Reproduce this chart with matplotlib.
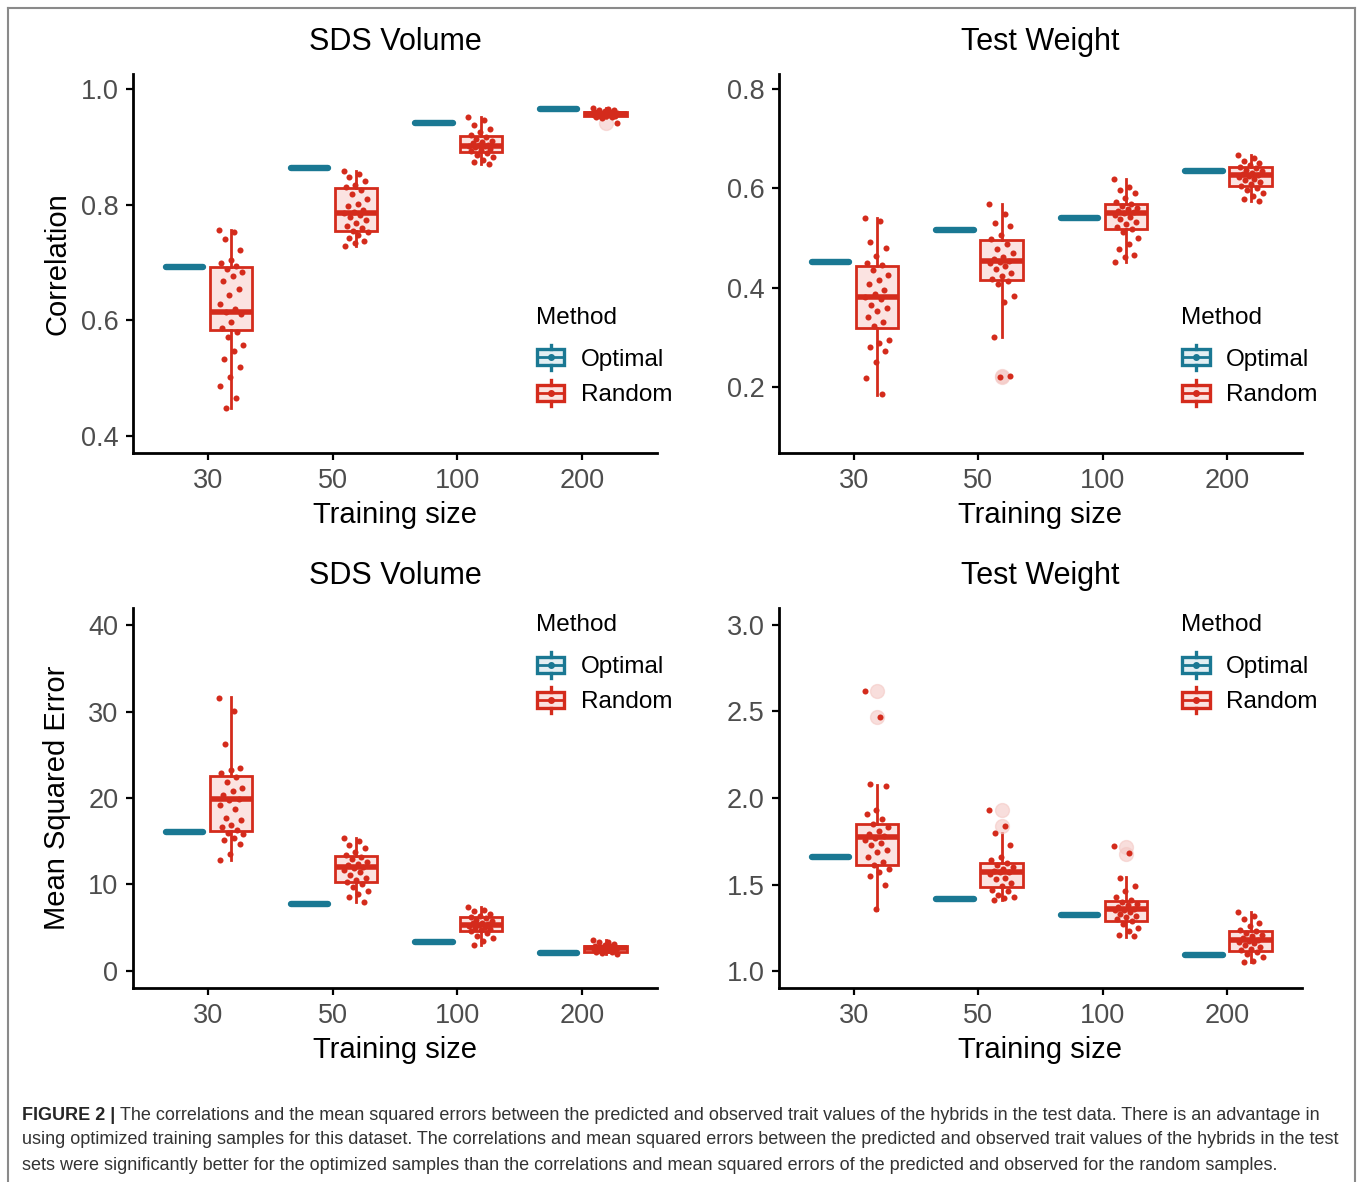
import numpy as np
import matplotlib
matplotlib.use("Agg")
import matplotlib.pyplot as plt
from matplotlib.patches import Rectangle, Patch
from matplotlib.lines import Line2D
from matplotlib.legend_handler import HandlerBase

plt.rcParams['font.family'] = ['Liberation Sans', 'DejaVu Sans']

# ---- data ----
sizes = ["30", "50", "100", "200"]

# optimal training set: one value per training size
sds_cor_opt = [0.693, 0.863, 0.941, 0.965]
tw_cor_opt = [0.452, 0.515, 0.541, 0.634]
sds_mse_opt = [16.1, 7.75, 3.35, 2.1]
tw_mse_opt = [1.659, 1.416, 1.324, 1.092]

# random training sets: box stats [whislo, q1, med, q3, whishi]
sds_cor_box = [[0.449, 0.584, 0.615, 0.692, 0.757],
               [0.728, 0.754, 0.785, 0.829, 0.858],
               [0.870, 0.891, 0.902, 0.918, 0.951],
               [0.950, 0.953, 0.957, 0.961, 0.967]]
tw_cor_box = [[0.184, 0.319, 0.382, 0.443, 0.541],
              [0.301, 0.416, 0.453, 0.495, 0.568],
              [0.452, 0.517, 0.551, 0.568, 0.618],
              [0.574, 0.604, 0.626, 0.643, 0.667]]
sds_mse_box = [[12.8, 16.2, 19.9, 22.5, 31.7],
               [8.0, 10.3, 12.0, 13.3, 15.4],
               [3.0, 4.6, 5.3, 6.2, 7.4],
               [2.0, 2.2, 2.6, 2.9, 3.6]]
tw_mse_box = [[1.353, 1.613, 1.775, 1.850, 2.075],
              [1.410, 1.485, 1.572, 1.624, 1.800],
              [1.197, 1.289, 1.358, 1.405, 1.543],
              [1.050, 1.116, 1.180, 1.230, 1.340]]

# outliers flagged by the boxplots
sds_cor_out = [[], [], [], [0.942]]
tw_cor_out = [[], [0.223, 0.220], [], []]
sds_mse_out = [[], [], [], []]
tw_mse_out = [[2.62, 2.47], [1.93, 1.84], [1.717, 1.676], []]

# individual random replicates
sds_cor_pts = [
    [0.757, 0.752, 0.741, 0.722, 0.705, 0.699, 0.694, 0.688, 0.684, 0.676, 0.668, 0.655, 0.643, 0.628, 0.619,
     0.615, 0.611, 0.598, 0.586, 0.579, 0.571, 0.558, 0.547, 0.534, 0.519, 0.502, 0.487, 0.465, 0.449],
    [0.858, 0.853, 0.848, 0.841, 0.834, 0.830, 0.826, 0.818, 0.809, 0.802, 0.797, 0.791, 0.787, 0.785, 0.783,
     0.779, 0.773, 0.768, 0.764, 0.759, 0.755, 0.752, 0.747, 0.742, 0.738, 0.733, 0.729],
    [0.951, 0.946, 0.938, 0.931, 0.925, 0.920, 0.917, 0.914, 0.911, 0.908, 0.906, 0.904, 0.903, 0.902, 0.901,
     0.899, 0.897, 0.894, 0.892, 0.889, 0.886, 0.882, 0.878, 0.874, 0.871],
    [0.968, 0.966, 0.964, 0.963, 0.962, 0.961, 0.960, 0.959, 0.958, 0.958, 0.957, 0.957, 0.956, 0.955, 0.955,
     0.954, 0.953, 0.953, 0.952, 0.951, 0.950, 0.942]]
tw_cor_pts = [
    [0.541, 0.535, 0.491, 0.479, 0.463, 0.450, 0.446, 0.436, 0.425, 0.415, 0.408, 0.395, 0.388, 0.382, 0.378,
     0.364, 0.359, 0.352, 0.341, 0.330, 0.322, 0.294, 0.289, 0.281, 0.272, 0.251, 0.218, 0.186],
    [0.568, 0.548, 0.530, 0.525, 0.505, 0.497, 0.488, 0.478, 0.469, 0.462, 0.457, 0.454, 0.452, 0.449, 0.444,
     0.437, 0.430, 0.423, 0.418, 0.414, 0.408, 0.384, 0.370, 0.301, 0.223, 0.220],
    [0.618, 0.603, 0.596, 0.590, 0.581, 0.572, 0.569, 0.565, 0.561, 0.558, 0.555, 0.552, 0.550, 0.547, 0.543,
     0.539, 0.533, 0.528, 0.522, 0.518, 0.512, 0.500, 0.488, 0.478, 0.466, 0.461, 0.452],
    [0.667, 0.660, 0.655, 0.650, 0.646, 0.643, 0.640, 0.637, 0.634, 0.631, 0.628, 0.627, 0.625, 0.622, 0.619,
     0.616, 0.612, 0.608, 0.605, 0.601, 0.596, 0.590, 0.584, 0.578, 0.574]]
sds_mse_pts = [
    [31.6, 30.1, 26.3, 23.5, 23.2, 22.9, 22.4, 21.8, 21.1, 20.8, 20.3, 19.9, 19.8, 19.2, 18.7, 17.7, 17.4,
     16.9, 16.6, 16.3, 16.0, 15.8, 15.4, 15.1, 14.7, 13.5, 12.8],
    [15.4, 15.0, 14.6, 14.2, 13.8, 13.4, 13.2, 12.9, 12.6, 12.4, 12.2, 12.0, 11.9, 11.7, 11.4, 11.1, 10.8,
     10.5, 10.3, 10.0, 9.7, 9.3, 8.9, 8.5, 8.0],
    [7.4, 7.1, 6.9, 6.6, 6.4, 6.2, 6.1, 5.9, 5.8, 5.6, 5.5, 5.4, 5.3, 5.2, 5.1, 5.0, 4.9, 4.7, 4.6, 4.4,
     4.1, 3.8, 3.5, 3.0],
    [3.6, 3.4, 3.3, 3.1, 3.0, 2.9, 2.9, 2.8, 2.7, 2.7, 2.6, 2.6, 2.5, 2.5, 2.4, 2.4, 2.3, 2.3, 2.2, 2.2,
     2.1, 2.0]]
tw_mse_pts = [
    [2.62, 2.47, 2.08, 2.07, 1.93, 1.91, 1.88, 1.85, 1.83, 1.81, 1.79, 1.78, 1.77, 1.76, 1.74, 1.73, 1.70,
     1.69, 1.66, 1.63, 1.61, 1.59, 1.57, 1.55, 1.50, 1.36],
    [1.93, 1.84, 1.80, 1.73, 1.66, 1.64, 1.625, 1.61, 1.60, 1.59, 1.58, 1.575, 1.57, 1.56, 1.54, 1.53, 1.51,
     1.49, 1.47, 1.46, 1.44, 1.43, 1.42, 1.41],
    [1.72, 1.68, 1.54, 1.49, 1.46, 1.43, 1.41, 1.40, 1.39, 1.38, 1.37, 1.36, 1.355, 1.35, 1.34, 1.33, 1.32,
     1.31, 1.30, 1.29, 1.27, 1.25, 1.23, 1.21, 1.20],
    [1.34, 1.32, 1.30, 1.28, 1.26, 1.24, 1.23, 1.22, 1.21, 1.20, 1.19, 1.18, 1.175, 1.17, 1.16, 1.15, 1.14,
     1.13, 1.12, 1.11, 1.10, 1.08, 1.06, 1.05]]

caption_head = "FIGURE 2 |"
caption_lines = [
    "The correlations and the mean squared errors between the predicted and observed trait values of the hybrids in the test data. There is an advantage in",
    "using optimized training samples for this dataset. The correlations and mean squared errors between the predicted and observed trait values of the hybrids in the test",
    "sets were significantly better for the optimized samples than the correlations and mean squared errors of the predicted and observed for the random samples.",
]

TEAL = "#1a7893"
RED = "#d42b1c"
PINK = "#fbe3e1"
TICKGREY = "#4d4d4d"


class BoxKey(HandlerBase):
    # ggplot style boxplot key glyph
    def create_artists(self, legend, orig_handle, xd, yd, w, h, fontsize, trans):
        ec = orig_handle.get_edgecolor()
        fc = orig_handle.get_facecolor()
        x0, y0 = -xd, -yd
        cx, cy = x0 + w / 2, y0 + h / 2
        bh = h * 0.62
        box = Rectangle((x0, cy - bh / 2), w, bh, facecolor=fc, edgecolor=ec, lw=2.4, transform=trans)
        med = Line2D([x0, x0 + w], [cy, cy], color=ec, lw=2.0, transform=trans)
        wt = Line2D([cx, cx], [cy + bh / 2, y0 + h], color=ec, lw=2.4, transform=trans)
        wb = Line2D([cx, cx], [y0, cy - bh / 2], color=ec, lw=2.4, transform=trans)
        dot = Line2D([cx], [cy], marker='o', ms=4.0, color=ec, transform=trans)
        return [box, med, wt, wb, dot]


def jitter(n):
    # fixed spread of the points around the box centre
    return ((np.arange(n) * 0.618034) % 1.0 - 0.5) * 0.2


def panel(ax, opt, box, outl, pts, ylim, yticks, ylabel, title, leg_y):
    pos = np.arange(len(sizes))
    off = 0.1875
    for i in pos:
        ax.plot([i - off - 0.15, i - off + 0.15], [opt[i], opt[i]], color=TEAL, lw=4.6,
                solid_capstyle='round', zorder=3)
    stats = []
    for i in pos:
        lo, q1, med, q3, hi = box[i]
        stats.append(dict(whislo=lo, q1=q1, med=med, q3=q3, whishi=hi, fliers=outl[i]))
    ax.bxp(stats, positions=pos + off, widths=0.34, patch_artist=True, showcaps=False,
           boxprops=dict(facecolor=PINK, edgecolor=RED, lw=2.0),
           whiskerprops=dict(color=RED, lw=2.0),
           medianprops=dict(color=RED, lw=4.0),
           flierprops=dict(marker='o', markersize=10, markerfacecolor="#f4c9c5",
                           markeredgecolor="#f4c9c5", alpha=0.6),
           zorder=2)
    for i in pos:
        y = np.array(pts[i])
        ax.scatter(i + off + jitter(len(y)), y, s=19, color=RED, zorder=4, linewidths=0)
    ax.set_xlim(-0.6, 3.6)
    ax.set_ylim(*ylim)
    ax.set_xticks(pos)
    ax.set_xticklabels(sizes)
    ax.set_yticks(yticks)
    ax.set_yticklabels([f"{t:g}" if isinstance(t, int) else f"{t:.1f}" for t in yticks])
    for s in ['top', 'right']:
        ax.spines[s].set_visible(False)
    for s in ['left', 'bottom']:
        ax.spines[s].set_linewidth(2.0)
    ax.tick_params(axis='both', length=5, width=1.6, labelsize=19.5, labelcolor=TICKGREY, pad=5.5)
    ax.set_xlabel("Training size", fontsize=21, labelpad=5)
    if ylabel:
        ax.set_ylabel(ylabel, fontsize=21)
        ax.yaxis.set_label_coords(-0.118, 0.5)
    ax.set_title(title, fontsize=22, pad=17)
    # legend: title as its own text, entries below it
    ax.text(0.769, leg_y, "Method", transform=ax.transAxes, fontsize=17.5, va='center', ha='left')
    handles = [Patch(facecolor="#e3eff3", edgecolor=TEAL), Patch(facecolor=PINK, edgecolor=RED)]
    ax.legend(handles, ["Optimal", "Random"], loc='upper left',
              bbox_to_anchor=(0.7715, leg_y - 0.071), frameon=False, fontsize=17.5,
              handler_map={h: BoxKey() for h in handles}, handlelength=1.12, handleheight=1.25,
              labelspacing=0.38, handletextpad=0.68, borderpad=0, borderaxespad=0)


fig = plt.figure(figsize=(13.58, 11.82), dpi=100)
W, H = 1358, 1182


def add_axes(l, r, t, b):
    return fig.add_axes([l / W, 1 - b / H, (r - l) / W, (b - t) / H])


ax1 = add_axes(133, 657, 74, 453)
ax2 = add_axes(779, 1302, 74, 453)
ax3 = add_axes(133, 657, 608, 988)
ax4 = add_axes(779, 1302, 608, 988)

panel(ax1, sds_cor_opt, sds_cor_box, sds_cor_out, sds_cor_pts, (0.3706, 1.026),
      [0.4, 0.6, 0.8, 1.0], "Correlation", "SDS Volume", 0.357)
panel(ax2, tw_cor_opt, tw_cor_box, tw_cor_out, tw_cor_pts, (0.067, 0.830),
      [0.2, 0.4, 0.6, 0.8], None, "Test Weight", 0.357)
panel(ax3, sds_mse_opt, sds_mse_box, sds_mse_out, sds_mse_pts, (-1.97, 41.97),
      [0, 10, 20, 30, 40], "Mean Squared Error", "SDS Volume", 0.955)
panel(ax4, tw_mse_opt, tw_mse_box, tw_mse_out, tw_mse_pts, (0.902, 3.098),
      [1.0, 1.5, 2.0, 2.5, 3.0], None, "Test Weight", 0.955)

# frame around the figure (left, top, right)
frame_col = "#8a8a8a"
fig.add_artist(Line2D([8 / W, 8 / W], [0, 1 - 8 / H], color=frame_col, lw=1.5))
fig.add_artist(Line2D([8 / W, 1355 / W], [1 - 8 / H, 1 - 8 / H], color=frame_col, lw=1.5))
fig.add_artist(Line2D([1355 / W, 1355 / W], [0, 1 - 8 / H], color=frame_col, lw=1.5))

# caption
renderer = fig.canvas.get_renderer()
cap_y = [1115, 1140, 1165]
cap_fs = 13.0
head = fig.text(22 / W, 1 - cap_y[0] / H, caption_head, fontsize=cap_fs, weight='bold',
                color="#262626", va='center')
bb = head.get_window_extent(renderer)
fig.text((bb.x1 + 5) / W, 1 - cap_y[0] / H, caption_lines[0], fontsize=cap_fs, color="#333333", va='center')
for yy, line in zip(cap_y[1:], caption_lines[1:]):
    fig.text(22 / W, 1 - yy / H, line, fontsize=cap_fs, color="#333333", va='center')

fig.savefig("out.png", dpi=100)
